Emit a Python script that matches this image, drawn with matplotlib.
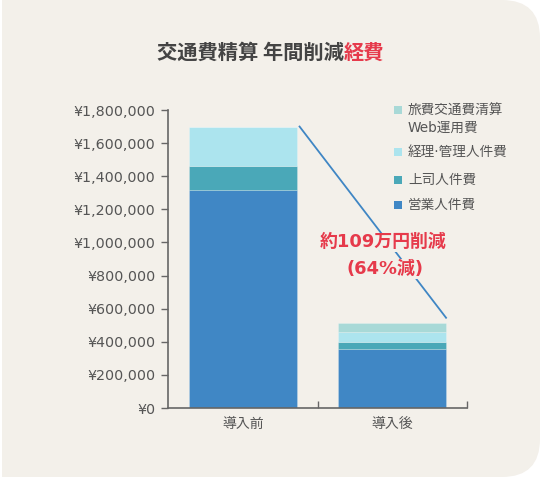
import matplotlib.pyplot as plt
from matplotlib.patches import FancyBboxPatch, Rectangle
from matplotlib.ticker import FuncFormatter
import numpy as np

plt.rcParams['font.family'] = ['DejaVu Sans', 'Noto Sans CJK JP']

# data (yen)
categories = ['導入前', '導入後']
series_names = ['営業人件費', '上司人件費', '経理·管理人件費', '旅費交通費清算\nWeb運用費']
eigyo = [1317000, 358000]
joshi = [145000, 39000]
keiri = [238000, 60000]
web = [0, 58000]
yticks = np.arange(0, 1800001, 200000)

colors = ['#4087c5', '#4aa8b8', '#ace4ee', '#a8d9d7']
panel = '#f3f0ea'
red = '#e63a4b'
grey = '#555555'

W, H = 540, 478
fig = plt.figure(figsize=(W / 100, H / 100), dpi=100)
fig.patch.set_facecolor('white')

# background panel in pixel coordinates
bg = fig.add_axes([0, 0, 1, 1], zorder=-5)
bg.set_xlim(0, W)
bg.set_ylim(H, 0)
bg.axis('off')
bg.add_patch(FancyBboxPatch((2, 0), W - 2, H - 1, boxstyle='round,pad=0,rounding_size=38',
                            fc=panel, ec='none'))
bg.add_patch(Rectangle((2, 0), 300, H - 1, fc=panel, ec='none'))

# main axes
ax = fig.add_axes([168 / W, 1 - 408 / H, (467 - 168) / W, (408 - 110) / H])
ax.set_facecolor('none')
x = np.arange(len(categories))
bw = 0.72
bottom = np.zeros(len(categories))
for vals, c in zip([eigyo, joshi, keiri, web], colors):
    ax.bar(x, vals, bw, bottom=bottom, color=c, edgecolor=(1, 1, 1, 0.2), linewidth=0.7, zorder=2)
    bottom += np.array(vals)

ax.set_xlim(-0.5, 1.5)
ax.set_ylim(0, 1800000)
ax.set_yticks(yticks)
ax.yaxis.set_major_formatter(FuncFormatter(lambda v, p: '¥{:,.0f}'.format(v)))
ax.tick_params(axis='y', direction='out', length=5, width=1, color='#666666',
               labelsize=10.3, labelcolor=grey, pad=4)
ax.set_xticks([0.5, 1.5])
ax.set_xticklabels([])
ax.tick_params(axis='x', direction='in', length=5, width=1, color='#666666')
for i, c in enumerate(categories):
    ax.text(x[i], -0.03, c, transform=ax.get_xaxis_transform(), ha='center', va='top',
            fontsize=10, color=grey, family='Noto Sans CJK JP')
for s in ['top', 'right']:
    ax.spines[s].set_visible(False)
for s in ['left', 'bottom']:
    ax.spines[s].set_color('#666666')
    ax.spines[s].set_linewidth(1.2)

# reduction line
totals = bottom
ax.plot([x[0] + bw / 2 + 0.02, x[1] + bw / 2], [totals[0], totals[1] + 30000],
        color='#3f86c4', lw=1.3, zorder=3, clip_on=False)

tb = dict(fc=panel, ec='none', pad=0.5)
ax.text(0.94, 1000000, '約109万円削減', ha='center', va='center', fontsize=12.9,
        fontweight='bold', color=red, bbox=tb, zorder=4)
ax.text(0.95, 840000, '(64%減)', ha='center', va='center', fontsize=12.9,
        fontweight='bold', color=red, bbox=tb, zorder=4)

# title
split = 344 / W
fig.text(split, 1 - 52 / H, '交通費精算 年間削減', ha='right', va='center', fontsize=14.6,
         fontweight='bold', color='#444444', family='Noto Sans CJK JP')
fig.text(split, 1 - 52 / H, '経費', ha='left', va='center', fontsize=14.6,
         fontweight='bold', color=red, family='Noto Sans CJK JP')

# legend
leg_rows = [(3, 110), (2, 152), (1, 180), (0, 205)]
for idx, yy in leg_rows:
    bg.add_patch(Rectangle((394, yy - 4), 8, 8, fc=colors[idx], ec='none'))
    two = '\n' in series_names[idx]
    bg.text(408, yy + 9 if two else yy, series_names[idx], ha='left', va='center',
            fontsize=9.8, color=grey, linespacing=1.3)

fig.savefig('out.png', dpi=100, facecolor=fig.get_facecolor())
